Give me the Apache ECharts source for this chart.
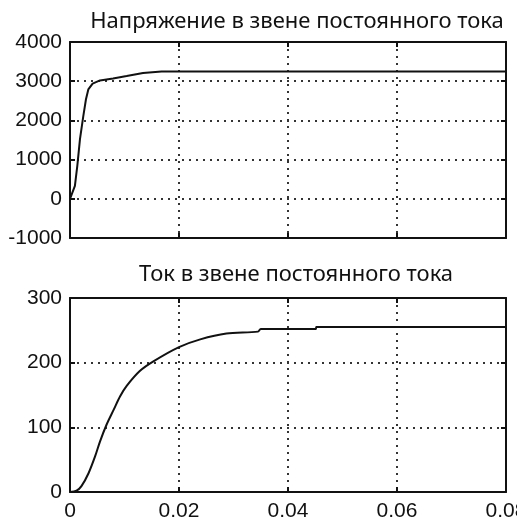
<!DOCTYPE html>
<html><head><meta charset="utf-8">
<script src="https://cdn.jsdelivr.net/npm/echarts@6/dist/echarts.min.js"></script>
<style>html,body{margin:0;padding:0;background:#fff}#c{width:517px;height:520px}</style>
</head><body><div id="c"></div>
<script>
var titleTop = 'Напряжение в звене постоянного тока';
var titleBottom = 'Ток в звене постоянного тока';
var voltT = [0, 0.0002, 0.0009, 0.00134, 0.00183, 0.00244, 0.00293, 0.00336, 0.00415, 0.0055, 0.0079, 0.0104, 0.0134, 0.0168, 0.08];
var voltV = [0, 0, 330, 840, 1520, 2110, 2540, 2790, 2940, 3020, 3070, 3130, 3210, 3250, 3250];
var currT = [0, 0.0012, 0.0021, 0.0034, 0.0046, 0.0055, 0.0067, 0.0080, 0.0092, 0.0104, 0.0128, 0.0153, 0.0200, 0.0239, 0.0287, 0.0345, 0.0350, 0.0451, 0.0452, 0.08];
var currV = [0, 2, 9, 29, 55, 78, 104, 127, 148, 164, 187, 202, 224, 236, 245, 248, 252, 252, 255, 255];
var xRange = [0, 0.08, 0.02];
var yTopRange = [-1000, 4000, 1000];
var yBotRange = [0, 300, 100];

function zip(a, b) { return a.map(function (v, i) { return [v, b[i]]; }); }
function fmt(v) { return String(Math.round(v * 1000) / 1000); }

var chart = echarts.init(document.getElementById('c'));
var lab = { fontFamily: 'Liberation Sans', fontSize: 21, color: '#111', formatter: fmt };
var frame = { show: true, lineStyle: { color: '#111', width: 2 } };
var tick = { show: true, inside: true, length: 5, lineStyle: { color: '#111', width: 2 } };
var dots = { show: true, lineStyle: { color: '#333', width: 2, type: [2, 5] } };

function xAx(grid, pos, labels, split) {
  return { type: 'value', gridIndex: grid, position: pos, min: xRange[0], max: xRange[1], interval: xRange[2],
    axisLine: Object.assign({ onZero: false }, frame), axisTick: tick,
    axisLabel: labels ? Object.assign({ margin: 9, showMinLabel: true, showMaxLabel: true, hideOverlap: false }, lab) : { show: false },
    splitLine: split ? dots : { show: false } };
}
function yAx(grid, pos, r, labels, split) {
  return { type: 'value', gridIndex: grid, position: pos, min: r[0], max: r[1], interval: r[2],
    axisLine: Object.assign({ onZero: false }, frame), axisTick: tick,
    axisLabel: labels ? Object.assign({ margin: 8 }, lab) : { show: false },
    splitLine: split ? dots : { show: false } };
}

chart.setOption({
  animation: false,
  backgroundColor: '#fff',
  grid: [
    { left: 70, right: 11, top: 42, height: 196, containLabel: false, outerBoundsMode: 'none' },
    { left: 70, right: 11, top: 298, height: 194, containLabel: false, outerBoundsMode: 'none' }
  ],
  xAxis: [xAx(0, 'bottom', false, true), xAx(0, 'top', false, false), xAx(1, 'bottom', true, true), xAx(1, 'top', false, false)],
  yAxis: [yAx(0, 'left', yTopRange, true, true), yAx(0, 'right', yTopRange, false, false), yAx(1, 'left', yBotRange, true, true), yAx(1, 'right', yBotRange, false, false)],
  graphic: [
    { type: 'text', x: 297, y: 22, style: { text: titleTop, textAlign: 'center', textVerticalAlign: 'middle', fontFamily: 'Noto Sans', fontSize: 22, fill: '#111' } },
    { type: 'text', x: 296, y: 275, style: { text: titleBottom, textAlign: 'center', textVerticalAlign: 'middle', fontFamily: 'Noto Sans', fontSize: 22, fill: '#111' } }
  ],
  series: [
    { type: 'line', xAxisIndex: 0, yAxisIndex: 0, data: zip(voltT, voltV), showSymbol: false, lineStyle: { color: '#111', width: 2 }, z: 5 },
    { type: 'line', xAxisIndex: 2, yAxisIndex: 2, data: zip(currT, currV), showSymbol: false, smooth: 0.3, lineStyle: { color: '#111', width: 2 }, z: 5 }
  ]
});
</script></body></html>
